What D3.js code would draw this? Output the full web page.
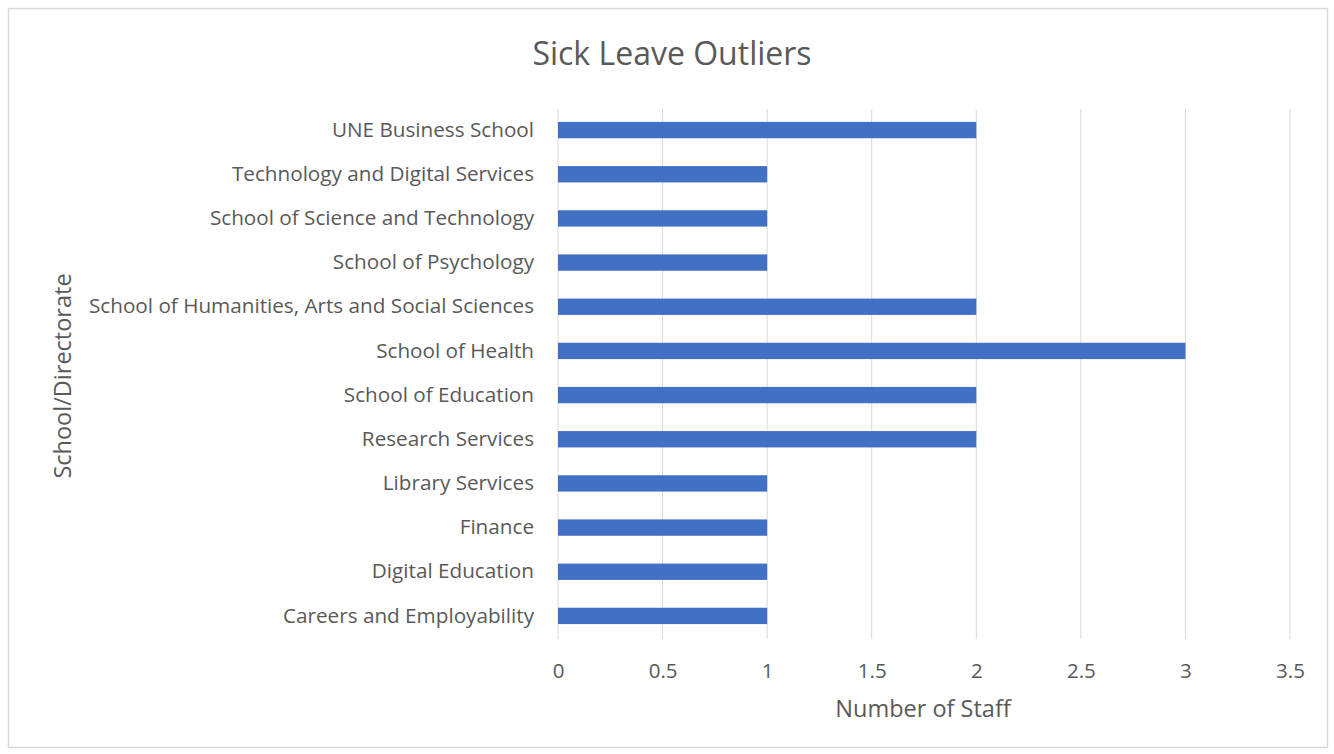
<!DOCTYPE html>
<html><head><meta charset="utf-8">
<script src="https://cdn.jsdelivr.net/npm/d3@7"></script>
<style>body{margin:0;background:#fff;}svg{display:block;font-family:"Open Sans",sans-serif;}</style>
</head><body>
<svg id="chart" width="1334" height="754"></svg>
<script>
const categories = ["UNE Business School","Technology and Digital Services","School of Science and Technology","School of Psychology","School of Humanities, Arts and Social Sciences","School of Health","School of Education","Research Services","Library Services","Finance","Digital Education","Careers and Employability"];
const values = [2,1,1,1,2,3,2,2,1,1,1,1];
const xTicks = [0,0.5,1,1.5,2,2.5,3,3.5];
const title = "Sick Leave Outliers";
const xTitle = "Number of Staff";
const yTitle = "School/Directorate";

const svg = d3.select("#chart");
svg.append("rect").attr("x",8.5).attr("y",8.5).attr("width",1319).attr("height",739)
  .attr("fill","#fff").attr("stroke","#d9d9d9").attr("stroke-width",1.5);

const x = d3.scaleLinear().domain([0,3.5]).range([558,1290]);
const y = d3.scaleBand().domain(categories).range([108,638]).paddingInner(0.63).paddingOuter(0.315);

svg.append("g").selectAll("line").data(xTicks).join("line")
  .attr("x1",d=>x(d)).attr("x2",d=>x(d)).attr("y1",109).attr("y2",639)
  .attr("stroke","#d9d9d9").attr("stroke-width",1);

svg.append("g").selectAll("rect").data(values).join("rect")
  .attr("x",x(0)).attr("y",(d,i)=>y(categories[i])).attr("width",d=>x(d)-x(0)).attr("height",y.bandwidth())
  .attr("fill","#4170c4");

const xAxis = svg.append("g").attr("transform","translate(0,678)")
  .call(d3.axisBottom(x).tickValues(xTicks).tickSize(0).tickPadding(0).tickFormat(d3.format("")));
xAxis.select(".domain").remove();
xAxis.selectAll("text").attr("font-size",20.5).attr("fill","#595959").attr("dy",0).attr("y",0).attr("font-family","Open Sans");

const yAxis = svg.append("g").attr("transform","translate(534,0)")
  .call(d3.axisLeft(y).tickSize(0).tickPadding(0));
yAxis.select(".domain").remove();
yAxis.selectAll("text").attr("font-size",20.7).attr("fill","#595959").attr("font-family","Open Sans");

svg.append("text").attr("x",672).attr("y",65).attr("text-anchor","middle")
  .attr("font-size",32).attr("fill","#595959").text(title);
svg.append("text").attr("x",923).attr("y",717).attr("text-anchor","middle")
  .attr("font-size",23.5).attr("fill","#595959").text(xTitle);
svg.append("text").attr("transform","translate(71,376) rotate(-90)").attr("text-anchor","middle")
  .attr("font-size",23.5).attr("fill","#595959").text(yTitle);
</script>
</body></html>
